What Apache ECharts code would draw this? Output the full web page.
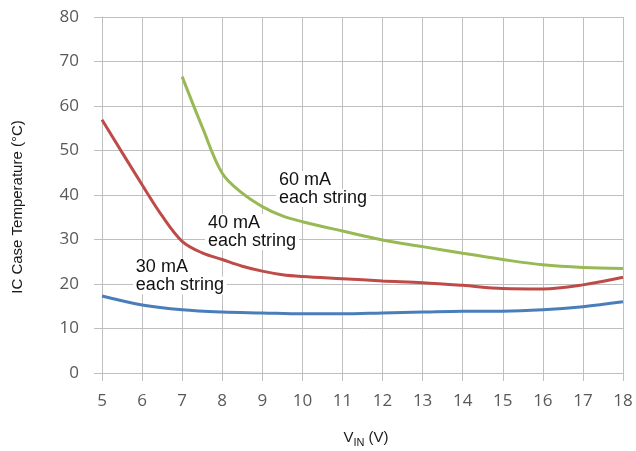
<!DOCTYPE html>
<html>
<head>
<meta charset="utf-8">
<script src="https://cdn.jsdelivr.net/npm/echarts@6/dist/echarts.min.js"></script>
<style>
html,body{margin:0;padding:0;background:#fff;}
#chart{width:636px;height:451px;}
</style>
</head>
<body>
<div id="chart"></div>
<script>
// Data
const xTicks = [5,6,7,8,9,10,11,12,13,14,15,16,17,18];
const yTicks = [0,10,20,30,40,50,60,70,80];

const x30 = [5,6,7,8,9,10,11,12,13,14,15,16,17,18];
const y30 = [17.3,15.3,14.2,13.7,13.5,13.3,13.3,13.5,13.7,13.9,13.9,14.2,14.9,16.0];

const x40 = [5,6,6.5,7,7.5,8,8.5,9,9.5,10,11,12,13,14,15,16,17,18];
const y40 = [56.9,42.3,35.3,29.6,27.0,25.5,24.0,22.9,22.1,21.7,21.2,20.7,20.3,19.7,19.0,18.9,19.8,21.5];

const x60 = [7,7.5,8,8.5,9,9.5,10,11,12,13,14,15,16,17,18];
const y60 = [66.6,55.3,44.9,40.4,37.4,35.3,34.0,31.9,29.9,28.4,26.9,25.5,24.3,23.7,23.5];

const seriesNames = ['30 mA each string','40 mA each string','60 mA each string'];
const labelLines = [['30 mA','each string'],['40 mA','each string'],['60 mA','each string']];
const labelAt = [[5.77,21.7],[7.57,31.7],[9.34,41.35]];
const colors = ['#4A7EBB','#BE4B48','#98B954'];

const pairs = (xs, ys) => xs.map((x, i) => [x, ys[i]]);
const seriesData = [pairs(x30,y30), pairs(x40,y40), pairs(x60,y60)];

const gridColor = '#bfbfbf';
const tickFont = {fontFamily:'Open Sans', fontSize:17, color:'#595959'};

const chart = echarts.init(document.getElementById('chart'));
chart.setOption({
  animation:false,
  backgroundColor:'#fff',
  grid:{left:102,right:13,top:17,bottom:78,containLabel:false,outerBoundsMode:'none'},
  xAxis:{
    type:'value', min:xTicks[0], max:xTicks[xTicks.length-1], interval:1,
    axisLine:{show:true,lineStyle:{color:gridColor,width:1}},
    axisTick:{show:true,length:8,lineStyle:{color:gridColor}},
    splitLine:{show:true,lineStyle:{color:gridColor,width:1}},
    axisLabel:Object.assign({margin:20},tickFont),
    name:'{a|V}{b|IN}{a| (V)}',
    nameLocation:'middle', nameGap:55,
    nameTextStyle:{padding:[0,0,0,7],rich:{
      a:{fontFamily:'Liberation Sans',fontSize:15,color:'#1a1a1a',lineHeight:20,verticalAlign:'middle'},
      b:{fontFamily:'Liberation Sans',fontSize:11,color:'#1a1a1a',lineHeight:11,verticalAlign:'bottom'}
    }}
  },
  yAxis:{
    type:'value', min:yTicks[0], max:yTicks[yTicks.length-1], interval:10,
    axisLine:{show:true,lineStyle:{color:gridColor,width:1}},
    axisTick:{show:true,length:8,lineStyle:{color:gridColor}},
    splitLine:{show:true,lineStyle:{color:gridColor,width:1}},
    axisLabel:Object.assign({margin:23},tickFont),
    name:'IC Case Temperature (°C)',
    nameLocation:'middle', nameRotate:90, nameGap:77,
    nameTextStyle:{fontFamily:'Liberation Sans',fontSize:15,color:'#1a1a1a',padding:[0,24,0,0]}
  },
  series: seriesData.map((d, i) => ({
    name: seriesNames[i],
    type:'line',
    data:d,
    smooth:0.35,
    symbol:'none',
    z: 2 + i,
    lineStyle:{color:colors[i],width:3},
    markPoint:{
      z: 10,
      symbol:'rect', symbolSize:0,
      silent:true,
      data:[{coord:labelAt[i], value:0}],
      label:{
        show:true, position:'inside', align:'left', verticalAlign:'middle',
        formatter: labelLines[i].map(t => '{t|' + t + '}').join('\n'),
        rich:{t:{fontFamily:'Liberation Sans',fontSize:18,lineHeight:18,color:'#111',backgroundColor:'#fff',padding:[0,3,0,3]}}
      }
    }
  }))
});
</script>
</body>
</html>
